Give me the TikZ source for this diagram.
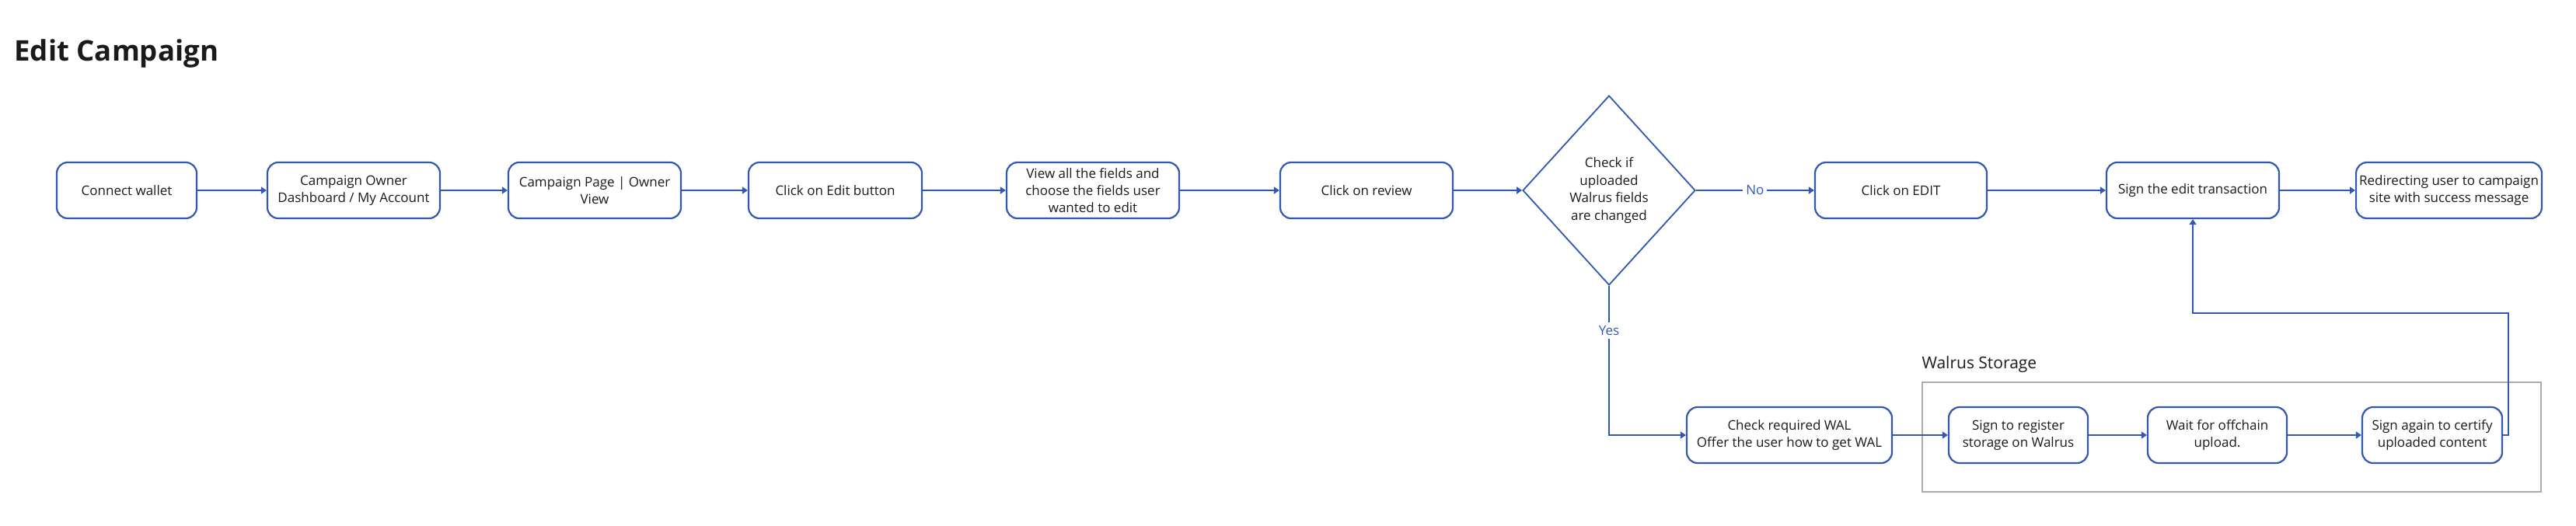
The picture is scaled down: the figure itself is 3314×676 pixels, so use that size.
\documentclass[tikz,border=0pt]{standalone}
\usepackage{fontspec}
\setmainfont{Open Sans}
\usetikzlibrary{arrows.meta,positioning,shapes.geometric}
\definecolor{flowblue}{RGB}{50,89,178}
\definecolor{inkgray}{RGB}{26,26,26}
\tikzset{
  stepbox/.style = {draw=flowblue, line width=1.1pt, fill=white, rounded corners=7pt,
                    minimum height=36pt, inner sep=2pt, align=center, text=inkgray,
                    font=\fontsize{8.5}{11.2}\selectfont},
  decide/.style  = {diamond, draw=flowblue, line width=0.9pt, fill=white, aspect=0.91,
                    minimum width=111pt, minimum height=122pt, inner sep=0pt,
                    align=center, text=inkgray, font=\fontsize{8.5}{11.2}\selectfont},
  flow/.style    = {-{Triangle[length=3.5pt,width=4.5pt]}, flowblue, line width=1.1pt},
  choice/.style  = {fill=white, text=flowblue, inner sep=2pt,
                    font=\fontsize{8.5}{10}\selectfont},
  frame/.style   = {draw=gray!65, line width=0.9pt},
}

\begin{document}
\begin{tikzpicture}[x=0.5pt,y=-0.5pt]
  \useasboundingbox (0,0) rectangle (3314,676);
  \node[anchor=base west, inner sep=0pt, text=inkgray, font=\fontsize{18.3}{22}\selectfont\bfseries]
    (title) at (18,78) {Edit Campaign};

  % walrus storage group
  \node[frame, minimum width=398pt, minimum height=70.5pt] (storage) at (2871,562.5) {};
  \node[anchor=base west, inner sep=0pt, text=inkgray, font=\fontsize{10.5}{12}\selectfont]
    (storagelbl) at ([yshift=8.5pt]storage.north west) {Walrus Storage};

  % main row
  \node[stepbox, minimum width=90pt]    (connect)   at (163,245)    {Connect wallet};
  \node[stepbox, minimum width=111pt]   (dashboard) at (455,245)    {Campaign Owner\\Dashboard / My Account};
  \node[stepbox, minimum width=111pt]   (ownerview) at (765,245)    {Campaign Page | Owner\\View};
  \node[stepbox, minimum width=111.5pt] (editbtn)   at (1074.5,245) {Click on Edit button};
  \node[stepbox, minimum width=111pt]   (fields)    at (1406,245)   {View all the fields and\\choose the fields user\\wanted to edit};
  \node[stepbox, minimum width=111pt]   (review)    at (1758,245)   {Click on review};
  \node[decide]                         (walruscheck) at (2070,245) {Check if\\uploaded\\Walrus fields\\are changed};
  \node[stepbox, minimum width=110.5pt] (clickedit) at (2445.5,245) {Click on EDIT};
  \node[stepbox, minimum width=111pt]   (signedit)  at (2821,245)   {Sign the edit transaction};
  \node[stepbox, minimum width=117.5pt] (redirect)  at (3150.5,245) {Redirecting user to campaign\\site with success message};

  % lower row
  \node[stepbox, minimum width=132pt]   (checkwal)  at (2302,560)   {Check required WAL\\Offer the user how to get WAL};
  \node[stepbox, minimum width=89.5pt]  (register)  at (2596.5,560) {Sign to register\\storage on Walrus};
  \node[stepbox, minimum width=89.5pt]  (offchain)  at (2852.5,560) {Wait for offchain\\upload.};
  \node[stepbox, minimum width=90pt]    (certify)   at (3129,560)   {Sign again to certify\\uploaded content};

  \foreach \a/\b in {connect/dashboard, dashboard/ownerview, ownerview/editbtn,
                     editbtn/fields, fields/review, review/walruscheck,
                     clickedit/signedit, signedit/redirect,
                     checkwal/register, register/offchain, offchain/certify}
    \draw[flow] (\a.east) -- (\b.west);

  \draw[flow] (walruscheck.east) -- node[choice]{No} (clickedit.west);
  \draw[flow] (walruscheck.south) |- node[choice, pos=0.15]{Yes} (checkwal.west);

  \coordinate (backup) at (3227,403);
  \draw[flow, line width=0.8pt] (certify.east) -| (backup) -| (signedit.south);
\end{tikzpicture}
\end{document}
